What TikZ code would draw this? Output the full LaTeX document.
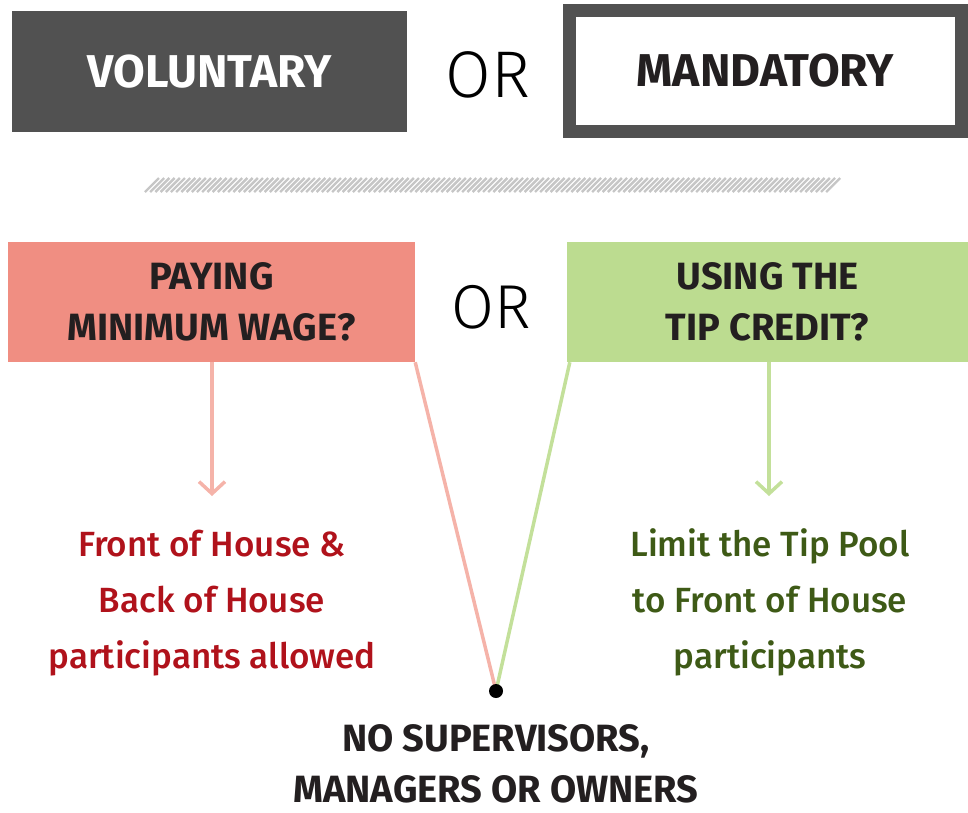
\documentclass[tikz,border=0pt]{standalone}
\usepackage{fontspec}
\setmainfont{Fira Sans}
\newfontfamily\lightf{Fira Sans Light}
\newfontfamily\medf{Fira Sans Medium}
\usetikzlibrary{arrows.meta}
\definecolor{darkbox}{HTML}{515151}
\definecolor{pinkbox}{HTML}{F08E82}
\definecolor{greenbox}{HTML}{BCDC90}
\definecolor{pinkline}{HTML}{F5B3A9}
\definecolor{greenline}{HTML}{C3E09A}
\definecolor{redtext}{HTML}{B0121B}
\definecolor{greentext}{HTML}{3E5A16}
\definecolor{inktext}{HTML}{231F20}
\definecolor{hatchgray}{HTML}{C6C6C6}
\tikzset{
  topbox/.style={rectangle, inner sep=0pt, minimum width=395pt, minimum height=121pt,
    font=\bfseries\fontsize{46}{46}\selectfont},
  qbox/.style={rectangle, inner sep=0pt, minimum height=120pt, align=center,
    text=inktext, font=\bfseries\fontsize{38}{51}\selectfont},
  orlabel/.style={inner sep=0pt, text=black},
  result/.style={align=center, inner sep=0pt, font=\medf\fontsize{35}{56}\selectfont},
  conn/.style={line width=3.5pt},
  downarrow/.style={conn, -{Straight Barb[length=12pt, width=26pt, line width=3.5pt]}},
}
\begin{document}
\begin{tikzpicture}[x=1pt,y=-1pt]
\useasboundingbox (0,0) rectangle (968,812);

% top row
\node[topbox, fill=darkbox, text=white] (vol) at (209.5,71.5) {VOLUNTARY};
\node[orlabel, font=\lightf\fontsize{66}{66}\selectfont] (or1) at (488,75) {OR};
\node[topbox, draw=darkbox, line width=13pt, fill=white, text=inktext,
      minimum width=392pt, minimum height=121pt] (mand) at (765.5,71) {MANDATORY};

% hatched divider
\foreach \i in {0,...,131}{
  \draw[hatchgray, line width=2.4pt] ({145+5.2*\i},192) -- ({159+5.2*\i},178);
}

% question boxes
\node[qbox, fill=pinkbox, minimum width=407pt] (pay) at (211.5,302) {PAYING\\MINIMUM WAGE?};
\node[orlabel, font=\lightf\fontsize{62}{62}\selectfont] (or2) at (491,307) {OR};
\node[qbox, fill=greenbox, minimum width=401pt] (tip) at (767.5,302) {USING THE\\TIP CREDIT?};

% arrows down
\coordinate (pa) at (212,496);
\coordinate (ga) at (769,496);
\draw[downarrow, pinkline] (pay.south -| pa) -- (pa);
\draw[downarrow, greenline] (tip.south -| ga) -- (ga);

% converging lines
\coordinate (meet) at (496,691);
\draw[conn, pinkline] (pay.south east) -- (meet);
\draw[conn, greenline] ([xshift=3pt]tip.south west) -- (meet);
\node[circle, fill=black, minimum size=14pt, inner sep=0pt] (dot) at (meet) {};

% results (base anchor = baseline of last line)
\node[result, text=redtext, anchor=base] (foh) at (212,668)
  {Front of House \&\\Back of House\\participants allowed};
\node[result, text=greentext, anchor=base] (lim) at (770,668)
  {Limit the Tip Pool\\to Front of House\\participants};
\node[align=center, inner sep=0pt, text=inktext, anchor=base,
      font=\bfseries\fontsize{38}{51}\selectfont] (nos) at (496,802)
  {NO SUPERVISORS,\\MANAGERS OR OWNERS};
\end{tikzpicture}
\end{document}
